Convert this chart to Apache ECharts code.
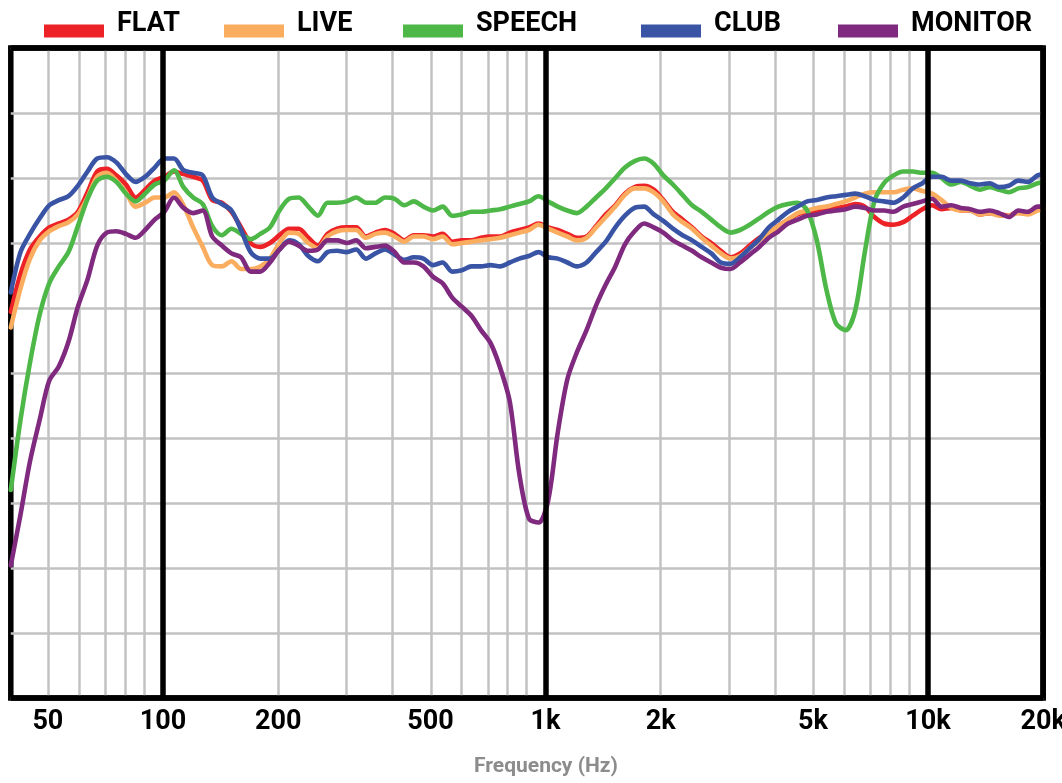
<!DOCTYPE html>
<html><head><meta charset="utf-8">
<script src="https://cdn.jsdelivr.net/npm/echarts@6/dist/echarts.min.js"></script>
<style>html,body{margin:0;padding:0;background:#fff}#c{width:1062px;height:783px}</style>
</head><body><div id="c"></div>
<script>
// Frequencies (Hz), 1/12-octave grid
const freqs = [40, 42.4, 44.9, 47.6, 50.4, 53.4, 56.6, 59.9, 63.5, 67.3, 71.3, 75.5, 80, 84.8, 89.8, 95.1, 100.8, 106.8, 113.1, 119.9, 127, 134.5, 142.5, 151, 160, 169.5, 179.6, 190.3, 201.6, 213.6, 226.3, 239.8, 254, 269.1, 285.1, 302.1, 320, 339, 359.2, 380.6, 403.2, 427.2, 452.5, 479.5, 508, 538.2, 570.2, 604.1, 640, 678, 718.4, 761.1, 806.3, 854.3, 905, 958.9, 1016, 1076, 1140, 1208, 1280, 1356, 1437, 1522, 1613, 1709, 1810, 1918, 2032, 2153, 2281, 2416, 2560, 2712, 2874, 3044, 3225, 3417, 3620, 3836, 4064, 4305, 4561, 4833, 5120, 5424, 5747, 6089, 6451, 6834, 7241, 7671, 8127, 8611, 9123, 9665, 10240, 10849, 11494, 12177, 12902, 13669, 14482, 15343, 16255, 17222, 18246, 19331, 20000];

// Response in dB
const flat = [-5.3, -2.4, -0.5, 0.5, 1.2, 1.5, 1.8, 2.4, 3.9, 5.5, 5.7, 5.2, 4.5, 3.5, 4.1, 4.8, 5.1, 5.5, 5.3, 5.1, 4.8, 3.3, 3.1, 2.4, 1.2, 0, -0.3, 0, 0.6, 1.1, 1.1, 0.4, -0.2, 0.7, 1.1, 1.2, 1.2, 0.5, 0.8, 1.0, 0.7, 0.2, 0.6, 0.6, 0.5, 0.7, 0.1, 0.2, 0.2, 0.4, 0.5, 0.5, 0.8, 1.0, 1.2, 1.5, 1.2, 1.0, 0.7, 0.4, 0.5, 1.3, 2.2, 2.9, 3.8, 4.3, 4.4, 4.1, 3.3, 2.4, 1.8, 1.2, 0.5, 0, -0.6, -1.1, -0.8, -0.2, 0.4, 0.8, 1.3, 1.8, 2.2, 2.4, 2.5, 2.6, 2.7, 2.8, 3.0, 2.8, 2.0, 1.5, 1.4, 1.6, 2.1, 2.6, 2.9, 2.6, 2.7, 2.5, 2.5, 2.2, 2.3, 2.2, 2.1, 2.4, 2.3, 2.6, 2.7];
const live = [-6.5, -3.5, -1.2, 0.2, 0.9, 1.3, 1.6, 2.2, 3.5, 5.1, 5.4, 4.8, 3.9, 2.8, 3.1, 3.5, 3.5, 3.9, 2.9, 1.2, -0.3, -1.7, -1.8, -1.4, -2.0, -2.0, -1.8, -1.2, 0, 0.8, 0.7, 0, -0.4, 0.5, 0.9, 1.0, 1.0, 0.4, 0.7, 0.8, 0.5, 0.1, 0.5, 0.5, 0.3, 0.5, -0.1, 0, 0.1, 0.2, 0.3, 0.4, 0.6, 0.8, 1.0, 1.4, 1.1, 0.8, 0.5, 0.2, 0.4, 1.2, 2.0, 2.8, 3.7, 4.2, 4.2, 3.9, 3.2, 2.2, 1.6, 1.1, 0.4, -0.2, -0.8, -1.2, -1.0, -0.4, 0.2, 0.8, 1.3, 1.8, 2.3, 2.5, 2.7, 2.8, 3.0, 3.2, 3.5, 3.8, 3.9, 3.9, 3.9, 4.1, 4.2, 4.0, 3.8, 3.3, 2.7, 2.5, 2.5, 2.2, 2.3, 2.1, 2.1, 2.3, 2.2, 2.5, 2.6];
const speech = [-19.0, -13.6, -9.2, -5.5, -3.1, -1.8, -0.7, 1.3, 3.4, 4.8, 5.1, 4.7, 3.8, 3.2, 3.8, 4.5, 4.8, 5.6, 4.3, 3.5, 3.0, 1.3, 0.6, 1.1, 0.7, 0.3, 0.7, 1.2, 2.5, 3.4, 3.5, 2.8, 2.1, 3.1, 3.1, 3.2, 3.5, 3.1, 3.1, 3.5, 3.4, 2.9, 3.2, 2.8, 2.5, 2.8, 2.1, 2.2, 2.4, 2.4, 2.5, 2.6, 2.8, 3.0, 3.2, 3.6, 3.2, 2.8, 2.5, 2.3, 2.8, 3.5, 4.2, 5.0, 5.8, 6.3, 6.5, 6.1, 5.2, 4.5, 3.7, 2.9, 2.4, 1.8, 1.2, 0.8, 1.0, 1.4, 1.9, 2.4, 2.8, 3.0, 3.1, 2.5, 0.2, -3.6, -6.2, -6.7, -5.2, -0.7, 3.2, 4.6, 5.2, 5.5, 5.5, 5.4, 5.4, 5.0, 4.5, 4.7, 4.4, 4.1, 4.3, 4.1, 3.9, 4.2, 4.3, 4.6, 4.7];
const club = [-3.8, -0.7, 0.7, 1.9, 2.9, 3.3, 3.6, 4.4, 5.5, 6.5, 6.6, 6.2, 5.3, 4.7, 5.1, 5.8, 6.5, 6.5, 5.6, 5.4, 5.2, 3.5, 3.0, 2.5, 1.0, -0.7, -1.2, -1.2, -0.5, 0.2, -0.1, -1.0, -1.4, -0.7, -0.6, -0.7, -0.5, -1.2, -0.8, -0.5, -0.9, -1.3, -1.1, -1.2, -1.7, -1.5, -2.2, -2.1, -1.8, -1.8, -1.7, -1.8, -1.5, -1.2, -1.0, -0.7, -1.1, -1.2, -1.5, -1.8, -1.5, -0.7, 0.1, 1.2, 2.1, 2.7, 2.8, 2.2, 1.7, 1.1, 0.6, 0.2, -0.3, -0.8, -1.5, -1.6, -1.1, -0.4, 0.3, 1.2, 1.8, 2.4, 2.8, 3.2, 3.3, 3.5, 3.6, 3.7, 3.8, 3.6, 3.3, 3.2, 3.1, 3.5, 4.2, 4.6, 5.1, 5.1, 4.8, 4.8, 4.6, 4.5, 4.6, 4.3, 4.4, 4.8, 4.7, 5.2, 5.3];
const monitor = [-24.8, -20.9, -16.8, -13.6, -10.6, -9.5, -7.6, -4.9, -2.8, -0.2, 0.8, 0.9, 0.7, 0.4, 1.0, 1.8, 2.4, 3.5, 2.7, 2.3, 2.5, 0.5, -0.2, -0.8, -1.1, -2.2, -2.2, -1.5, -0.5, 0.1, -0.2, -0.6, -0.5, 0.2, 0.2, 0, 0.2, -0.4, -0.3, -0.2, -0.7, -1.5, -1.5, -1.8, -2.6, -3.1, -4.2, -4.9, -5.6, -6.7, -7.7, -9.6, -12.2, -17.8, -21.2, -21.5, -19.8, -14.6, -10.5, -8.4, -6.7, -4.8, -3.2, -1.8, -0.1, 0.9, 1.5, 1.2, 0.8, 0.2, -0.2, -0.6, -1.1, -1.5, -1.9, -2.0, -1.5, -0.9, -0.3, 0.4, 0.9, 1.5, 1.8, 2.1, 2.2, 2.4, 2.5, 2.6, 2.8, 2.7, 2.5, 2.5, 2.4, 2.8, 3.0, 3.2, 3.4, 2.8, 2.9, 2.7, 2.6, 2.4, 2.5, 2.3, 2.0, 2.5, 2.4, 2.8, 2.8];

const seriesNames = ['FLAT', 'LIVE', 'SPEECH', 'CLUB', 'MONITOR'];
const seriesColors = ['#ED2227', '#FBAD5F', '#4DB848', '#3A54A5', '#7F2A7F'];
const tickFreqs = [50, 100, 200, 500, 1000, 2000, 5000, 10000, 20000];
const tickLabels = ['50', '100', '200', '500', '1k', '2k', '5k', '10k', '20k'];
const minorGridFreqs = [50, 60, 70, 80, 90, 200, 300, 400, 500, 600, 700, 800, 900, 2000, 3000, 4000, 5000, 6000, 7000, 8000, 9000];
const majorGridFreqs = [100, 1000, 10000];
const freqMin = 40, freqMax = 20000;
const dbMin = -35, dbMax = 15, dbStep = 5;

const FONT = "Roboto, 'Liberation Sans', sans-serif";
const lg = Math.log10;
const values = [flat, live, speech, club, monitor];
const legendLeft = [44, 224, 403, 641, 838];
// legend swatch: 60x13 bar sitting in the lower half of a 60x26 box
const legendIcon = 'path://M0,0L60,0L60,0.01L0,0.01Z M0,13L60,13L60,26L0,26Z';

const chart = echarts.init(document.getElementById('c'), null, {renderer: 'canvas'});

const curveSeries = seriesNames.map((name, i) => ({
  name: name,
  type: 'line',
  data: freqs.map((f, k) => [lg(f), values[i][k]]),
  showSymbol: false,
  symbol: 'none',
  smooth: 0.3,
  z: 2,
  lineStyle: {width: 4.6, color: seriesColors[i], cap: 'round', join: 'round'},
  itemStyle: {color: seriesColors[i]},
  emphasis: {disabled: true}
}));

const gridSeries = {
  type: 'line', data: [], silent: true, z: 1,
  markLine: {
    silent: true, z: 1, symbol: ['none', 'none'], animation: false,
    label: {show: false},
    lineStyle: {color: '#c2c2c2', width: 2.5, type: 'solid'},
    emphasis: {disabled: true},
    data: minorGridFreqs.map(f => ({xAxis: lg(f)}))
  }
};
const frameSeries = {
  type: 'line', data: [], silent: true, z: 10, clip: false,
  markLine: {
    silent: true, z: 10, symbol: ['none', 'none'], animation: false,
    label: {show: false},
    lineStyle: {color: '#000', width: 5.5, type: 'solid'},
    emphasis: {disabled: true},
    data: majorGridFreqs.map(f => ({xAxis: lg(f)}))
      .concat([{xAxis: lg(freqMin)}, {xAxis: lg(freqMax) - 1e-9}, {yAxis: dbMin}, {yAxis: dbMax}])
  }
};

chart.setOption({
  animation: false,
  backgroundColor: '#fff',
  grid: {left: 10.8, right: 18.8, top: 48, bottom: 85, containLabel: false, outerBoundsMode: 'none',
         show: true, borderColor: '#000', borderWidth: 5.5, backgroundColor: 'transparent'},
  legend: seriesNames.map((n, i) => ({
    data: [n], left: legendLeft[i], top: 11, padding: 0,
    itemWidth: 60, itemHeight: 26, icon: legendIcon, selectedMode: false, itemGap: 0,
    textStyle: {fontFamily: FONT, fontWeight: 'bold', fontSize: 27, lineHeight: 27, color: '#000', padding: [0, 0, 0, 8]}
  })),
  xAxis: {
    type: 'value', min: lg(freqMin), max: lg(freqMax),
    name: 'Frequency (Hz)', nameLocation: 'middle', nameGap: 58,
    nameTextStyle: {fontFamily: FONT, fontWeight: 'bold', fontSize: 21, color: '#8c8c8c', padding: [0, 0, 0, 38]},
    axisLine: {show: false}, axisTick: {show: false}, splitLine: {show: false},
    axisLabel: {
      customValues: tickFreqs.map(lg), margin: 11,
      fontFamily: FONT, fontWeight: 'bold', fontSize: 27, color: '#000',
      formatter: v => {
        const idx = tickFreqs.findIndex(f => Math.abs(lg(f) - v) < 1e-6);
        return idx >= 0 ? tickLabels[idx] : '';
      }
    }
  },
  yAxis: {
    type: 'value', min: dbMin, max: dbMax, interval: dbStep,
    axisLine: {show: false}, axisTick: {show: false}, axisLabel: {show: false},
    splitLine: {show: true, lineStyle: {color: '#c2c2c2', width: 2.5}}
  },
  series: [gridSeries].concat(curveSeries).concat([frameSeries])
});
</script></body></html>
